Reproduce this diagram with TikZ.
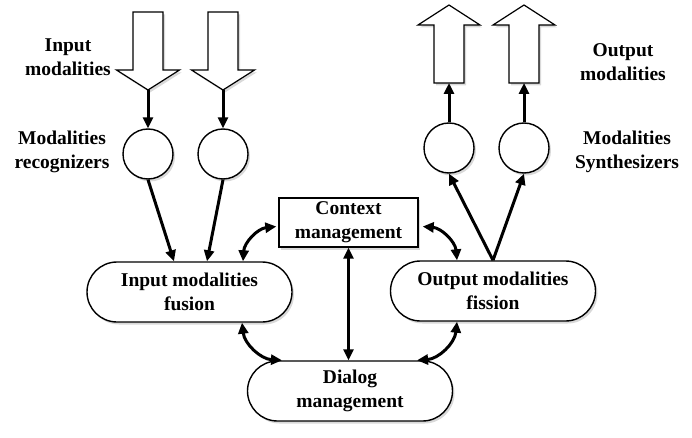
\documentclass[tikz,border=0pt]{standalone}
\usepackage{fontspec}
\setmainfont{Liberation Serif}
\usetikzlibrary{arrows.meta,shadows,shapes.misc}
\begin{document}
\begin{tikzpicture}[x=1pt,y=1pt,
  lbl/.style={font=\bfseries\fontsize{19.5}{24}\selectfont, align=center},
  shd/.style={drop shadow={shadow xshift=2pt, shadow yshift=-2.5pt, opacity=0.3, fill=gray}},
  pill/.style={draw, line width=1.4pt, fill=white, rounded rectangle, minimum width=205pt, minimum height=60pt, inner sep=0pt, lbl, shd},
  ctxbox/.style={draw, line width=1.4pt, fill=white, rectangle, minimum width=139pt, minimum height=49pt, inner sep=0pt, lbl, shd},
  circ/.style={draw, line width=1.4pt, fill=white, circle, minimum size=50pt, inner sep=0pt, shd},
  blk/.style={draw, line width=1.2pt, fill=white, line join=miter, shd},
  conn/.style={line width=3pt, -{Triangle[length=11pt,width=10pt]}},
  dconn/.style={line width=3pt, {Triangle[length=11pt,width=10pt]}-{Triangle[length=11pt,width=10pt]}}
]
\useasboundingbox (0,0) rectangle (692,-438);

% input block arrows
\draw[blk] (133,-12) -- (163,-12) -- (163,-70) -- (179.5,-70) -- (148,-90) -- (116.5,-70) -- (133,-70) -- cycle;
\coordinate (tipA) at (148,-90);
\draw[blk] (208,-12) -- (238,-12) -- (238,-70) -- (254.5,-70) -- (223,-90) -- (191.5,-70) -- (208,-70) -- cycle;
\coordinate (tipB) at (223,-90);

% output block arrows
\draw[blk] (434,-83) -- (464,-83) -- (464,-25) -- (480,-25) -- (449,-5) -- (418,-25) -- (434,-25) -- cycle;
\coordinate (baseA) at (449,-83);
\draw[blk] (509,-83) -- (539,-83) -- (539,-25) -- (555,-25) -- (524,-5) -- (493,-25) -- (509,-25) -- cycle;
\coordinate (baseB) at (524,-83);

% circles
\node[circ] (rec1) at (148,-154) {};
\node[circ] (rec2) at (223,-154) {};
\node[circ] (syn1) at (449,-148) {};
\node[circ] (syn2) at (524,-148) {};

% labels
\node[lbl] (tin) at (68,-57) {Input\\modalities};
\node[lbl] (trec) at (62,-152) {Modalities\\recognizers};
\node[lbl] (tout) at (623,-62) {Output\\modalities};
\node[lbl] (tsyn) at (627,-152) {Modalities\\Synthesizers};

% main nodes
\node[ctxbox] (context) at (348.5,-222.5) {Context\\management};
\node[pill] (fusion) at (189.5,-292) {Input modalities\\fusion};
\node[pill] (fission) at (493,-291) {Output modalities\\fission};
\node[pill] (dialog) at (350,-391) {Dialog\\management};

% straight connectors
\draw[conn] (tipA) -- (rec1.north);
\draw[conn] (tipB) -- (rec2.north);
\draw[conn] (syn1.north) -- (baseA);
\draw[conn] (syn2.north) -- (baseB);
\draw[conn] (rec1.south) -- ([xshift=-15.5pt]fusion.north);
\draw[conn] (rec2.south) -- ([xshift=17.5pt]fusion.north);
\draw[conn] (fission.north) -- (syn1.south);
\draw[conn] (fission.north) -- (syn2.south);
\draw[dconn] (context.south) -- (context.south |- dialog.north);

% curved double arrows
\draw[dconn] ([xshift=53.5pt]fusion.north) to[bend left=40] ([yshift=-4pt,xshift=-2pt]context.west);
\draw[dconn] ([yshift=-4pt,xshift=4pt]context.east) to[bend left=40] ([xshift=-36pt]fission.north);
\draw[dconn] ([xshift=52.5pt]fusion.south) to[bend right=40] ([xshift=-68pt]dialog.north);
\draw[dconn] ([xshift=-36pt]fission.south) to[bend left=40] ([xshift=67pt]dialog.north);
\end{tikzpicture}
\end{document}
